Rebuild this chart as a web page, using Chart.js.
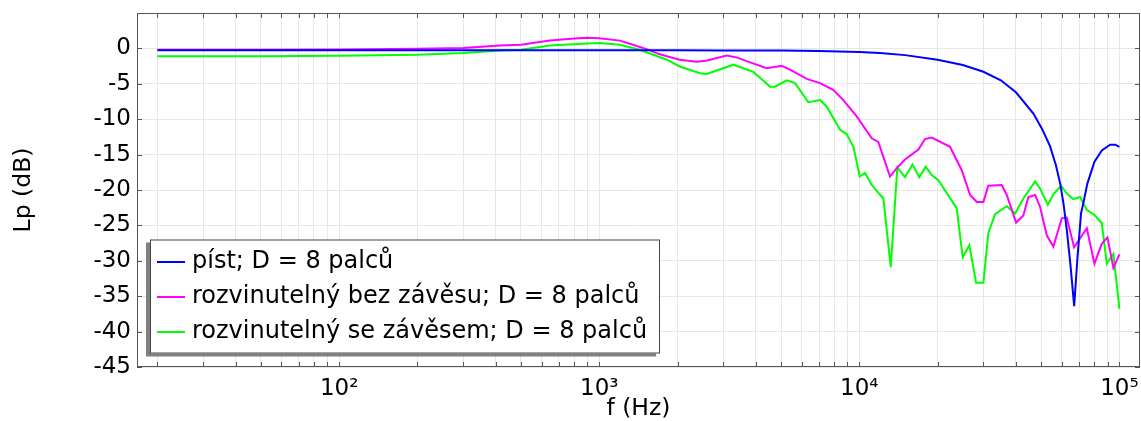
<!DOCTYPE html>
<html>
<head>
<meta charset="utf-8">
<script src="https://cdn.jsdelivr.net/npm/chart.js@4.4.1/dist/chart.umd.min.js"></script>
<style>
  html, body { margin: 0; padding: 0; background: #fff; }
  canvas { display: block; }
</style>
</head>
<body>
<canvas id="lpChart" width="1141" height="421"></canvas>
<script>
// frekvence (Hz) a hladiny (dB)
const pistFreq = [20, 50, 100, 200, 500, 1000, 2000, 3000, 5000, 7000, 10000, 12000, 15000, 20000, 25000, 30000, 35000, 40000, 46700, 50300, 54100, 57000, 59200, 61000, 62800, 64800, 67000, 69000, 71200, 73000, 75300, 80200, 85600, 92100, 96300, 100000];
const pistLevel = [-0.25, -0.25, -0.25, -0.25, -0.25, -0.26, -0.27, -0.28, -0.3, -0.38, -0.5, -0.65, -0.95, -1.6, -2.35, -3.3, -4.5, -6.2, -9.2, -11.3, -13.8, -16.5, -19.1, -22.0, -25.7, -30.5, -36.4, -29.5, -23.3, -21.5, -19.1, -16.0, -14.4, -13.6, -13.6, -13.9];

const bezFreq = [20, 50, 100, 200, 300, 415, 500, 646, 800, 900, 1000, 1200, 1300, 1520, 1700, 1820, 2040, 2370, 2600, 3090, 3400, 3690, 4400, 5030, 5410, 6280, 7060, 7940, 8680, 9770, 10200, 11160, 11830, 13120, 13930, 14990, 16870, 17890, 18990, 22330, 23690, 24760, 26660, 28290, 29990, 31330, 35290, 36890, 40060, 42730, 44670, 47410, 49550, 52580, 55720, 60040, 62760, 66960, 74920, 80170, 85570, 89950, 94840, 100000];
const bezLevel = [-0.2, -0.2, -0.15, -0.05, 0.05, 0.4, 0.5, 1.1, 1.4, 1.5, 1.45, 1.1, 0.7, -0.1, -0.8, -1.1, -1.6, -1.9, -1.7, -1.0, -1.3, -1.8, -2.8, -2.45, -3.0, -4.3, -4.9, -5.85, -7.3, -9.6, -10.6, -12.7, -13.2, -18.1, -16.9, -15.7, -14.3, -12.8, -12.6, -13.9, -15.8, -17.2, -20.7, -21.7, -21.7, -19.4, -19.3, -20.7, -24.6, -23.6, -21.0, -20.7, -22.4, -26.4, -28.0, -24.0, -23.9, -28.1, -25.4, -30.4, -27.6, -26.7, -31.0, -29.1];

const seFreq = [20, 50, 100, 200, 300, 415, 500, 646, 900, 1006, 1200, 1430, 1820, 2040, 2440, 2590, 3280, 3910, 4540, 4740, 5260, 5660, 6370, 7060, 7490, 8430, 8940, 9490, 10040, 10520, 11160, 12370, 13210, 14000, 14990, 16000, 17010, 18000, 18990, 20130, 23690, 24980, 26490, 28110, 29990, 31330, 33260, 36890, 39710, 42730, 47410, 49550, 53040, 55720, 59670, 62760, 66530, 70630, 74920, 80640, 85570, 89440, 94840, 100000];
const seLevel = [-1.1, -1.1, -1.05, -0.9, -0.65, -0.3, -0.2, 0.4, 0.7, 0.75, 0.5, -0.2, -1.6, -2.55, -3.5, -3.6, -2.3, -3.3, -5.4, -5.4, -4.5, -4.9, -7.6, -7.3, -8.2, -11.5, -12.1, -13.9, -18.1, -17.6, -19.3, -21.2, -30.9, -16.8, -18.2, -16.4, -18.2, -16.7, -17.9, -18.6, -22.6, -29.5, -27.8, -33.1, -33.1, -26.1, -23.4, -22.3, -23.3, -21.2, -18.8, -19.8, -22.1, -20.6, -19.4, -20.5, -21.3, -21.0, -22.8, -23.6, -24.7, -30.4, -29.0, -36.8];

const seriesLabels = ['píst; D = 8 palců', 'rozvinutelný bez závěsu; D = 8 palců', 'rozvinutelný se závěsem; D = 8 palců'];

const xTicks = [20, 30, 40, 50, 60, 70, 80, 90,
  100, 200, 300, 400, 500, 600, 700, 800, 900,
  1000, 2000, 3000, 4000, 5000, 6000, 7000, 8000, 9000,
  10000, 20000, 30000, 40000, 50000, 60000, 70000, 80000, 90000, 100000];
const xMajor = [100, 1000, 10000, 100000];
const xMajorLabels = ['10²', '10³', '10⁴', '10⁵'];
const yTicks = [-45, -40, -35, -30, -25, -20, -15, -10, -5, 0];

const FONT = 'DejaVu Sans';

function toPoints(fs, ls) {
    return fs.map((f, i) => ({ x: f, y: ls[i] }));
}

// ramecek a ticky dovnitr
const framePlugin = {
    id: 'frame',
    afterDraw(chart) {
        const { ctx, chartArea: a, scales: { x, y } } = chart;
        ctx.save();
        ctx.strokeStyle = '#555';
        ctx.lineWidth = 1;
        ctx.beginPath();
        xTicks.forEach(v => {
            const px = Math.round(x.getPixelForValue(v)) + 0.5;
            ctx.moveTo(px, a.bottom); ctx.lineTo(px, a.bottom - 5);
            ctx.moveTo(px, a.top); ctx.lineTo(px, a.top + 5);
        });
        yTicks.forEach(v => {
            const py = Math.round(y.getPixelForValue(v)) + 0.5;
            ctx.moveTo(a.left, py); ctx.lineTo(a.left + 5, py);
            ctx.moveTo(a.right, py); ctx.lineTo(a.right - 5, py);
        });
        ctx.stroke();
        ctx.strokeRect(a.left + 0.5, a.top + 0.5, a.right - a.left - 1, a.bottom - a.top - 1);
        ctx.restore();
    }
};

// legenda se stinem vlevo dole
const legendPlugin = {
    id: 'boxLegend',
    afterDraw(chart) {
        const ctx = chart.ctx;
        const bx = 150, by = 239.5, bw = 510, bh = 114;
        ctx.save();
        ctx.fillStyle = '#808080';
        ctx.fillRect(bx - 4, by + 3, bw, bh);
        ctx.fillStyle = '#fff';
        ctx.fillRect(bx, by, bw, bh);
        ctx.strokeStyle = '#444';
        ctx.lineWidth = 1;
        ctx.strokeRect(bx + 0.5, by + 0.5, bw - 1, bh - 1);
        ctx.font = '24px "' + FONT + '"';
        ctx.textBaseline = 'middle';
        chart.data.datasets.forEach((ds, i) => {
            const ry = 262 + i * 35;
            ctx.strokeStyle = ds.borderColor;
            ctx.lineWidth = 2;
            ctx.beginPath();
            ctx.moveTo(157, ry); ctx.lineTo(185, ry);
            ctx.stroke();
            ctx.fillStyle = '#000';
            ctx.fillText(ds.label, 192, ry);
        });
        ctx.restore();
    }
};

const colors = ['#0000ff', '#ff00ff', '#00ff00'];
const seriesData = [toPoints(pistFreq, pistLevel), toPoints(bezFreq, bezLevel), toPoints(seFreq, seLevel)];

new Chart(document.getElementById('lpChart'), {
    type: 'line',
    data: {
        datasets: seriesData.map((d, i) => ({
            label: seriesLabels[i],
            data: d,
            borderColor: colors[i],
            borderWidth: 2,
            pointRadius: 0,
            tension: 0,
            fill: false
        }))
    },
    options: {
        responsive: false,
        animation: false,
        devicePixelRatio: 1,
        layout: { padding: { top: 13, right: 1, left: 0, bottom: 0 } },
        plugins: { legend: { display: false }, tooltip: { enabled: false } },
        scales: {
            x: {
                type: 'logarithmic',
                min: 16.7,
                max: 120000,
                afterBuildTicks: s => { s.ticks = xTicks.map(v => ({ value: v })); },
                afterFit: s => { s.height = 54; s.paddingLeft = 0; s.paddingRight = 0; },
                ticks: {
                    autoSkip: false,
                    maxRotation: 0,
                    padding: 8,
                    color: '#000',
                    font: { family: FONT, size: 23 },
                    callback: v => {
                        const k = xMajor.indexOf(v);
                        return k >= 0 ? xMajorLabels[k] : '';
                    }
                },
                grid: { color: '#e8e8e8', drawTicks: false },
                border: { display: false },
                title: {
                    display: true,
                    text: 'f (Hz)',
                    color: '#000',
                    font: { family: FONT, size: 23.5, lineHeight: 1 },
                    padding: { top: 0, bottom: 0 }
                }
            },
            y: {
                min: -45,
                max: 5,
                afterBuildTicks: s => { s.ticks = yTicks.map(v => ({ value: v })); },
                afterFit: s => { s.width = 137; s.paddingTop = 0; s.paddingBottom = 0; },
                ticks: {
                    padding: 6,
                    color: '#000',
                    font: { family: FONT, size: 23 },
                    callback: v => String(v)
                },
                grid: { color: '#e8e8e8', drawTicks: false },
                border: { display: false },
                title: {
                    display: true,
                    text: 'Lp (dB)',
                    color: '#000',
                    font: { family: FONT, size: 23.5, lineHeight: 1 },
                    padding: { top: 12, bottom: 0 }
                }
            }
        }
    },
    plugins: [framePlugin, legendPlugin]
});
</script>
</body>
</html>
